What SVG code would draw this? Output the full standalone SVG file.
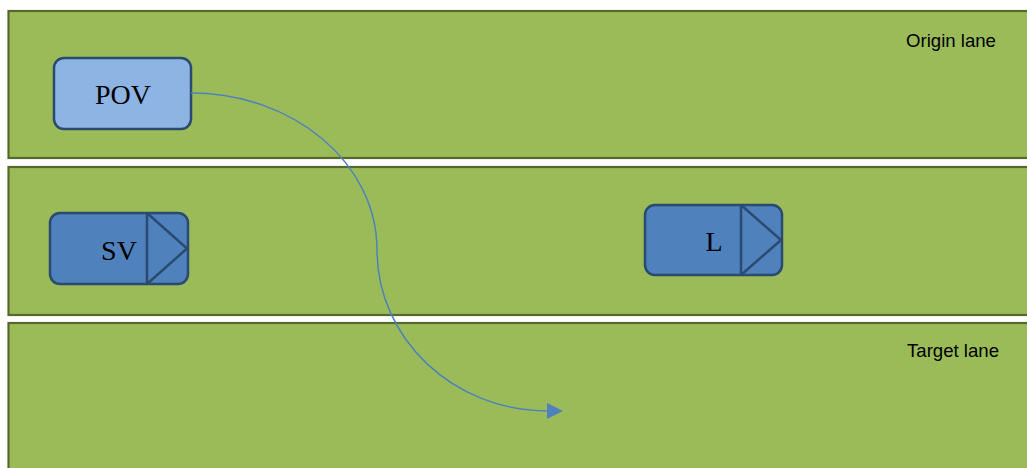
<svg xmlns="http://www.w3.org/2000/svg" width="1027" height="468" viewBox="0 0 1027 468">
  <style>
    .lane { fill: #9BBB59; stroke: #56692D; stroke-width: 2.2; }
    .lanelabel { font-family: "Liberation Sans", Arial, sans-serif; font-size: 18.6px; fill: #000; }
    .car { stroke: #2B4A6F; stroke-width: 2.5; }
    .car-text { font-family: "Liberation Serif", "Times New Roman", serif; font-size: 28px; fill: #000; text-anchor: middle; }
    .conn { fill: none; stroke: #4F81BD; stroke-width: 1.5; }
  </style>
  <defs>
    <marker id="arrow" markerUnits="userSpaceOnUse" markerWidth="17" markerHeight="16" refX="1" refY="8" orient="auto" viewBox="0 0 17 16">
      <path d="M0,0 L16,8 L0,16 z" fill="#4F81BD"/>
    </marker>
  </defs>
  <rect width="1027" height="468" fill="#FFFFFF"/>
  <g id="lane-origin">
    <rect class="lane" x="8.5" y="11" width="1030" height="147"/>
    <text class="lanelabel" x="906" y="46.7">Origin lane</text>
  </g>
  <g id="lane-middle">
    <rect class="lane" x="8.5" y="167" width="1030" height="148"/>
  </g>
  <g id="lane-target">
    <rect class="lane" x="8.5" y="323" width="1030" height="160"/>
    <text class="lanelabel" x="907" y="357.3">Target lane</text>
  </g>
  <g id="node-pov">
    <rect class="car" x="54" y="58" width="137" height="71" rx="10" fill="#8DB4E2"/>
    <text class="car-text" x="123" y="104">POV</text>
  </g>
  <g id="node-sv">
    <rect class="car" x="50" y="213" width="138" height="71" rx="10" fill="#4F81BD"/>
    <path class="car" d="M147,213 L147,284 M147,213 L187,248.5 L147,284" fill="none"/>
    <text class="car-text" x="119" y="260">SV</text>
  </g>
  <g id="node-l">
    <rect class="car" x="645" y="205" width="137" height="70" rx="10" fill="#4F81BD"/>
    <path class="car" d="M741,205 L741,275 M741,205 L781,240 L741,275" fill="none"/>
    <text class="car-text" x="714" y="251">L</text>
  </g>
  <g id="connectors">
    <path class="conn" d="M191,93 C293.7,93 377,163.3 377,250 C377,338.9 453.6,411 548,411" marker-end="url(#arrow)"/>
  </g>
</svg>
